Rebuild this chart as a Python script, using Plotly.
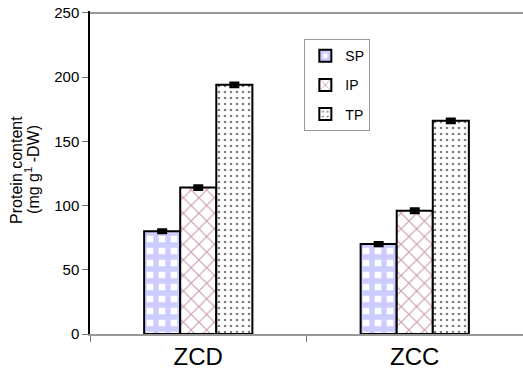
import plotly.graph_objects as go

categories = ["ZCD", "ZCC"]
sp = [80, 70]
ip = [114, 96]
tp = [194, 166]
sp_err = [1.2, 1.2]
ip_err = [1.5, 1.5]
tp_err = [1.5, 1.5]
y_ticks = [0, 50, 100, 150, 200, 250]

fig = go.Figure()

def add(name, vals, errs, shape, fg, size, sol):
    fig.add_trace(go.Bar(
        name=name, x=categories, y=vals, legendgroup=name,
        error_y=dict(type="data", array=errs, color="black", thickness=3, width=5),
        marker=dict(color="white", line=dict(color="black", width=2),
                    pattern=dict(shape=shape, fgcolor=fg, bgcolor="white", size=size, solidity=sol)),
    ))

add("SP", sp, sp_err, "+", "#9999ff", 12, 0.7)
add("IP", ip, ip_err, "x", "#993366", 11, 0.2)
add("TP", tp, tp_err, ".", "#000000", 6, 0.15)

W, H = 523, 379
L, T, B = 90, 11, 45
plot_w = W - L

fig.update_layout(
    width=W, height=H,
    margin=dict(l=L, r=0, t=T, b=B, autoexpand=False),
    paper_bgcolor="white", plot_bgcolor="white",
    barmode="group", bargap=0.5, bargroupgap=0,
    font=dict(family="Liberation Sans, Arial", color="black"),
    legend=dict(x=0.495, y=0.913, xanchor="left", yanchor="top",
                bordercolor="#999", borderwidth=1, bgcolor="white",
                font=dict(size=14), tracegroupgap=8,
                itemwidth=30),
    showlegend=True,
    shapes=[dict(type="line", xref="paper", yref="y", x0=0, x1=1,
                 y0=y_ticks[-1], y1=y_ticks[-1], layer="above",
                 line=dict(color="#999", width=2))],
    annotations=[
        dict(text="Protein content", x=(17 - L) / plot_w, y=0.508, xref="paper", yref="paper",
             xanchor="center", yanchor="middle", textangle=-90, showarrow=False,
             font=dict(size=16)),
        dict(text="(mg g<sup>1</sup> -DW)", x=(32 - L) / plot_w, y=0.508, xref="paper", yref="paper",
             xanchor="center", yanchor="middle", textangle=-90, showarrow=False,
             font=dict(size=16)),
    ],
)

fig.update_xaxes(
    type="category", showline=True, linecolor="#999", linewidth=2,
    ticks="outside", tickson="boundaries", ticklen=6, tickcolor="#777",
    tickfont=dict(size=24), showgrid=False, automargin=False,
)
fig.update_yaxes(
    range=[0, 251.5], tickvals=y_ticks, showline=True, linecolor="black", linewidth=1.5,
    ticks="outside", ticklen=6, tickcolor="#777", showgrid=False, zeroline=False,
    tickfont=dict(size=15), automargin=False,
)

fig.write_html("out.html", config={"displayModeBar": False},
               post_script="document.body.style.margin='0';")
